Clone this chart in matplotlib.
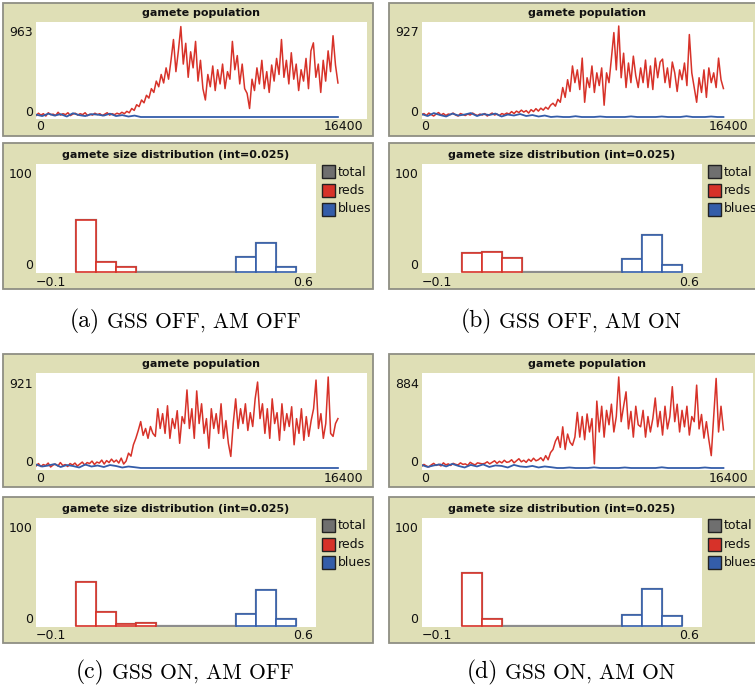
import matplotlib
matplotlib.use('Agg')
import matplotlib.pyplot as plt
import numpy as np
from matplotlib.patches import Rectangle

# ================= DATA =================
panel_ids = ['a', 'b', 'c', 'd']
captions = ['GSS OFF, AM OFF', 'GSS OFF, AM ON', 'GSS ON, AM OFF', 'GSS ON, AM ON']

pop_title = 'gamete population'
pop_ymax = [963, 927, 921, 884]
pop_xmax = 16400
pop_tend = 14960

reds_a = [15, 40, 20, 35, 10, 45, 25, 30, 15, 50, 20, 35, 25, 45, 15, 30, 40, 20, 35, 25, 45, 15, 30, 20, 40,
          25, 35, 15, 30, 45, 20, 35, 25, 40, 30, 50, 35,
          60, 45, 90, 70, 130, 110, 180, 150, 230, 200, 300, 260, 380, 320, 450, 360, 520, 400, 600,
          820, 480, 700, 957, 560, 780, 420, 690, 520, 800, 380, 600, 300, 180,
          450, 320, 540, 280, 500, 350, 560, 300, 480, 400, 800,
          500, 650, 350, 560, 300, 250, 90,
          400, 280, 520, 350, 600, 300, 480, 260, 550, 380, 620, 450, 820,
          420, 600, 350, 680, 400, 560, 280, 500, 380, 620, 300, 700, 785,
          420, 560, 260, 600, 380, 700, 480, 860, 550, 360]
reds_b = [20, 35, 15, 40, 25, 10, 30, 45, 20, 35, 15, 30, 25, 40, 20, 10, 35, 25, 15, 30, 20, 40, 25, 15, 30,
          20, 35, 10, 25, 40, 20, 30, 15, 35, 25,
          40, 30, 55, 35, 60, 45, 70, 50, 65, 40, 75, 55, 85, 60, 90, 70, 100, 80, 120,
          140, 110, 180, 150, 300, 200, 380, 260, 520,
          350, 480, 280, 600, 150, 400, 300, 520, 250, 450, 320, 500, 120,
          450, 350, 600, 860, 480, 927, 400, 650, 300, 550, 350, 620, 420, 300,
          500, 350, 580, 300, 520, 280, 600, 400, 560, 590, 350, 500, 300, 560, 450, 260, 480, 380, 550, 320,
          840, 450, 300, 150,
          400, 250, 480, 200, 500, 350, 450, 300, 600, 380, 290]
reds_c = [20, 45, 15, 35, 25, 50, 10, 30, 40, 20, 55, 25, 35, 15, 45, 30, 50, 20, 40, 60, 30, 55, 45, 70, 35,
          60, 50, 80, 40, 75, 55, 90, 60,
          80, 50, 100, 40, 70, 150, 120, 235, 300, 380,
          470, 330, 400, 300, 420, 350, 320, 600, 400, 550, 350, 630, 300, 500, 400, 580, 250, 520, 450,
          790, 400, 600, 300, 780, 450, 650, 350, 500, 200, 600, 400, 550, 350, 650, 300, 480, 250,
          117, 450, 700, 400, 600, 450, 650, 380, 560, 420, 700,
          870, 500, 650, 350, 600, 300, 700, 450, 560, 280, 650, 380, 550, 420, 620,
          235, 500, 350, 600, 280, 520, 320, 480, 600, 890, 400, 550, 300, 450, 921, 350, 320, 450, 500]
reds_d = [15, 35, 20, 10, 30, 45, 25, 35, 20, 50, 30, 40, 25, 45, 35, 30, 50, 35, 40, 25, 55, 40, 30, 50, 45, 40,
          45, 60, 40, 55, 70, 45, 65, 50, 75, 55, 60, 80, 50, 70, 90, 60, 75, 55, 85, 65, 95, 70, 80, 100,
          70, 120, 80, 150, 180, 260, 305, 200, 400, 180, 330, 250, 220, 300, 540,
          300, 500, 275, 525, 350, 480, 40, 650, 350, 600, 300, 560, 420, 620, 350, 500,
          884, 450, 600, 740, 380, 550, 300, 600, 420, 400, 560, 300, 500, 350, 480,
          680, 400, 550, 320, 600, 380, 500, 790, 450, 620, 350, 560, 400, 600, 320, 500, 450,
          805, 380, 520, 290, 450, 275, 120, 500, 870, 350, 600, 370]

blues_a = [25, 10, 35, 15, 30, 5, 40, 20, 10, 30, 25, 15, 35, 10, 20, 5, 15,
           0, 0, 0, 0, 0, 0, 0, 0, 0, 0, 0, 0, 0, 0, 0, 0, 0, 0, 0, 0, 0, 0, 0, 0, 0, 0, 0, 0, 0, 0, 0, 0, 0]
blues_b = [30, 10, 40, 20, 5, 35, 15, 25, 40, 10, 30, 20, 35, 5, 25, 15, 30, 10, 20, 5, 15,
           0, 5, 0, 0, 8, 0, 0, 0, 5, 0, 0, 0, 0, 6, 0, 0, 0, 0, 5, 0, 0, 0, 8, 0, 0, 0, 5, 0, 0]
blues_c = [35, 15, 25, 40, 10, 30, 20, 5, 35, 15, 25, 10, 30, 20, 5, 15, 8,
           0, 0, 0, 0, 0, 0, 0, 0, 0, 0, 0, 0, 0, 0, 0, 0, 0, 0, 0, 0, 0, 0, 0, 0, 0, 0, 0, 0, 0, 0, 0, 0, 0]
blues_d = [30, 10, 25, 35, 15, 40, 20, 5, 30, 15, 35, 10, 25, 20, 5, 30, 15, 10, 20, 5, 15, 8,
           0, 0, 5, 0, 0, 0, 6, 0, 0, 0, 0, 5, 0, 0, 0, 0, 0, 7, 0, 0, 0, 0, 0, 0, 5, 0, 0, 0]

reds_pop = [reds_a, reds_b, reds_c, reds_d]
blues_pop = [blues_a, blues_b, blues_c, blues_d]

hist_title = 'gamete size distribution (int=0.025)'
hist_edges = [0.0, 0.05, 0.10, 0.15, 0.20, 0.25, 0.30, 0.35, 0.40, 0.45, 0.50, 0.55]
hist_reds = [
    [48, 9, 4.5, 0, 0, 0, 0, 0, 0, 0, 0],
    [17.4, 18.6, 13.5, 0, 0, 0, 0, 0, 0, 0, 0],
    [40.6, 12.2, 1.5, 2.4, 0, 0, 0, 0, 0, 0, 0],
    [48.3, 6, 0, 0, 0, 0, 0, 0, 0, 0, 0],
]
hist_blues = [
    [0, 0, 0, 0, 0, 0, 0, 0, 14, 27, 4.5],
    [0, 0, 0, 0, 0, 0, 0, 0, 12.5, 34, 6.7],
    [0, 0, 0, 0, 0, 0, 0, 0, 10.7, 32.7, 6],
    [0, 0, 0, 0, 0, 0, 0, 0, 9.5, 33.6, 8.5],
]
hist_xlim = (-0.1, 0.6)
hist_ymax = 100
legend_labels = ['total', 'reds', 'blues']

# ================= STYLE =================
BG = '#dfdfb6'
EDGE = '#8f8f84'
RED = '#d73229'
BLUE = '#345da9'
GRAY = '#8d8d8d'
LEG_COLORS = ['#6f6f6f', RED, BLUE]

W, H = 755, 689
fig = plt.figure(figsize=(W / 100, H / 100), dpi=100)


def fx(x):
    return x / W


def fy(y):
    return 1 - y / H


def axes_px(x0, y0, x1, y1):
    ax = fig.add_axes([fx(x0), fy(y1), (x1 - x0) / W, (y1 - y0) / H])
    ax.set_xticks([])
    ax.set_yticks([])
    for s in ax.spines.values():
        s.set_visible(False)
    ax.set_facecolor('white')
    return ax


def frame_px(x0, y0, x1, y1):
    fig.add_artist(Rectangle((fx(x0), fy(y1)), (x1 - x0) / W, (y1 - y0) / H,
                             transform=fig.transFigure, facecolor=BG,
                             edgecolor=EDGE, lw=1.3, zorder=-5))


def txt(x, y, s, ha='left', size=9, weight='normal'):
    fig.text(fx(x), fy(y), s, ha=ha, va='center', fontsize=size,
             fontweight=weight, family='DejaVu Sans', color='#111111')


col_dx = [0, 385.5]
pop_dy = [0, 351]
hist_dy = [0, 353.5]
cap_y = [321, 672]

for k in range(4):
    row, col = divmod(k, 2)
    dx, py, hy = col_dx[col], pop_dy[row], hist_dy[row]
    right = 373 + dx if col == 0 else 775

    # ---- population plot ----
    frame_px(3 + dx, 3 + py, right, 136 + py)
    ax = axes_px(36 + dx, 22 + py, 367 + dx, 119 + py)
    ymax = pop_ymax[k]
    tr = np.linspace(0, pop_tend, len(reds_pop[k]))
    tb = np.linspace(0, pop_tend, len(blues_pop[k]))
    ax.plot(tr, reds_pop[k], color=RED, lw=1.1)
    ax.plot(tb, blues_pop[k], color=BLUE, lw=1.3)
    ax.set_xlim(0, pop_xmax)
    ax.set_ylim(-0.022 * ymax, 1.044 * ymax)
    txt(201.5 + dx, 13 + py, pop_title, ha='center', size=8, weight='bold')
    txt(33 + dx, 33 + py, str(ymax), ha='right')
    txt(33 + dx, 112 + py, '0', ha='right')
    txt(36 + dx, 127 + py, '0', ha='left')
    txt(363 + dx, 127 + py, str(pop_xmax), ha='right')

    # ---- histogram ----
    frame_px(3 + dx, 143 + hy, right, 289 + hy)
    hx = axes_px(36 + dx, 164 + hy, 316 + dx, 273 + hy)
    reds = np.array(hist_reds[k])
    blues = np.array(hist_blues[k])
    total = reds + blues
    edges = np.array(hist_edges)
    w = edges[1] - edges[0]
    hx.stairs(total, edges, color=GRAY, lw=1.6, baseline=0)
    m = reds > 0
    hx.bar(edges[:-1][m], reds[m], width=w, align='edge', facecolor='white',
           edgecolor=RED, lw=1.2, zorder=3)
    m = blues > 0
    hx.bar(edges[:-1][m], blues[m], width=w, align='edge', facecolor='white',
           edgecolor=BLUE, lw=1.2, zorder=3)
    hx.set_xlim(*hist_xlim)
    hx.set_ylim(-0.8, hist_ymax)
    txt(176 + dx, 155 + hy, hist_title, ha='center', size=8, weight='bold')
    txt(33 + dx, 175 + hy, str(hist_ymax), ha='right')
    txt(33 + dx, 266 + hy, '0', ha='right')
    txt(36 + dx, 282 + hy, '\u22120.1', ha='left')
    txt(313 + dx, 282 + hy, '0.6', ha='right')

    # legend
    for j, (lab, c) in enumerate(zip(legend_labels, LEG_COLORS)):
        yc = 172 + 18.5 * j + hy
        fig.add_artist(Rectangle((fx(322 + dx), fy(yc + 6.5)), 13 / W, 13 / H,
                                 transform=fig.transFigure, facecolor=c,
                                 edgecolor='#222222', lw=1.0))
        txt(338 + dx, yc, lab, ha='left', size=9)

    # ---- caption ----
    cx = 185 + dx
    t1 = fig.text(fx(cx), fy(cap_y[row]), '(%s)' % panel_ids[k], ha='right', va='center',
                  fontsize=17, family='cmr10')
    t2 = fig.text(fx(cx), fy(cap_y[row] + 1), captions[k], ha='left', va='center',
                  fontsize=15.5, family='cmr10')
    r = fig.canvas.get_renderer()
    w1 = t1.get_window_extent(r).width
    w2 = t2.get_window_extent(r).width
    gap = 7
    left = cx - (w1 + gap + w2) / 2
    t1.set_x(fx(left + w1))
    t2.set_x(fx(left + w1 + gap))

fig.savefig('out.png', dpi=100)
